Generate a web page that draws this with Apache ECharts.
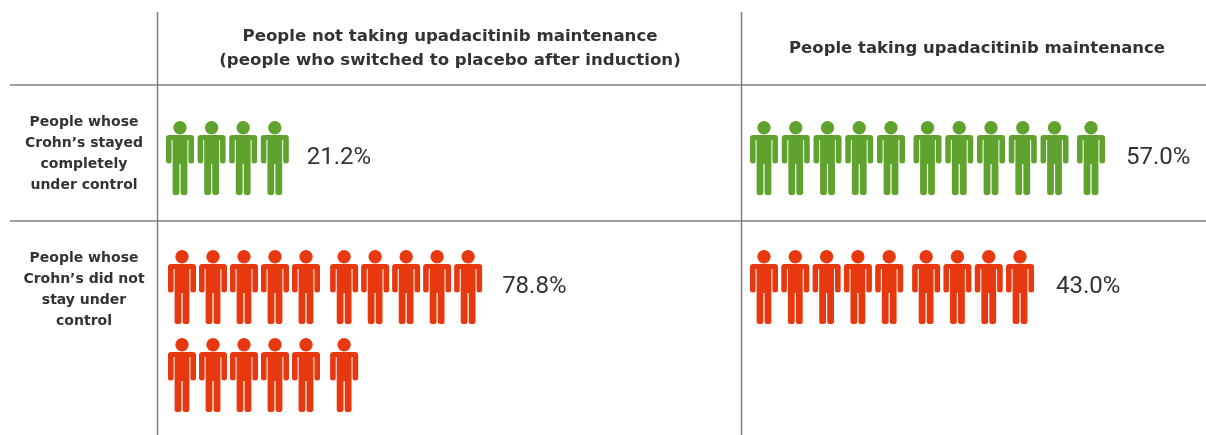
<!DOCTYPE html>
<html>
<head>
<meta charset="utf-8">
<style>
  html, body { margin: 0; background: #fff; }
  #chart { width: 1206px; height: 435px; }
</style>
<script src="https://cdn.jsdelivr.net/npm/echarts@6/dist/echarts.min.js"></script>
</head>
<body>
<div id="chart"></div>
<script>
var columnHeaders = [
  'People not taking upadacitinib maintenance\n(people who switched to placebo after induction)',
  'People taking upadacitinib maintenance'
];
var rowHeaders = [
  'People whose\nCrohn\u2019s stayed\ncompletely\nunder control',
  'People whose\nCrohn\u2019s did not\nstay under\ncontrol'
];
var peopleCounts = [4, 11, 16, 9];
var percentValues = [21.2, 57.0, 78.8, 43.0];

var GREEN = '#5fa32e';
var RED = '#e7380f';
var LINE = '#808080';
var TEXT = '#333333';
var FONT = '"DejaVu Sans"';

var ROW_PITCH = 88;    // px per row of people
var SLOTS = 13;

var person = 'path://M14 0A6.7 6.7 0 1 1 14 13.4A6.7 6.7 0 1 1 14 0Z' +
  'M3 14H25Q28 14 28 17V40Q28 42.5 25.2 42.5Q22.4 42.5 22.4 40V19H21.4V71.4Q21.4 74 18 74Q14.6 74 14.6 71.4V43H13.4V71.4Q13.4 74 10 74Q6.6 74 6.6 71.4V19H5.6V40Q5.6 42.5 2.8 42.5Q0 42.5 0 40V17Q0 14 3 14Z';

// one grid per table cell: first icon centre, px per person, extra slot after five, people per row
var cells = [
  { x: 180, y: 158, pitch: 31.6, gap: 0.2, perRow: 11, color: GREEN, labelGap: 18 },
  { x: 764, y: 158, pitch: 31.75, gap: 0.15, perRow: 11, color: GREEN, labelGap: 21 },
  { x: 182, y: 287, pitch: 31, gap: 0.23, perRow: 10, color: RED, labelGap: 20 },
  { x: 764, y: 287, pitch: 31.3, gap: 0.18, perRow: 11, color: RED, labelGap: 22 }
];

function personPoints(count, value, cell) {
  var pts = [];
  var lastInFirstRow = Math.min(count, cell.perRow) - 1;
  for (var i = 0; i < count; i++) {
    var col = i % cell.perRow;
    var point = { value: [col + Math.floor(col / 5) * cell.gap, Math.floor(i / cell.perRow)] };
    if (i === lastInFirstRow) {
      point.label = {
        show: true,
        position: 'right',
        distance: cell.labelGap,
        formatter: value.toFixed(1) + '%',
        color: TEXT,
        fontFamily: 'Roboto',
        fontSize: 24
      };
    }
    pts.push(point);
  }
  return pts;
}

function headerText(text, x, y, size, lineHeight, weight) {
  return {
    type: 'text',
    x: x,
    y: y,
    style: {
      text: text,
      fill: TEXT,
      font: weight + ' ' + size + 'px ' + FONT,
      align: 'center',
      verticalAlign: 'middle',
      lineHeight: lineHeight
    }
  };
}

function rule(x1, y1, x2, y2) {
  return { type: 'line', shape: { x1: x1, y1: y1, x2: x2, y2: y2 }, style: { stroke: LINE, lineWidth: 1.5 } };
}

var chart = echarts.init(document.getElementById('chart'), null, { renderer: 'canvas' });
chart.setOption({
  animation: false,
  backgroundColor: '#fff',
  grid: cells.map(function (c) {
    return { left: c.x - c.pitch / 2, top: c.y - ROW_PITCH / 2, width: SLOTS * c.pitch, height: 2 * ROW_PITCH };
  }),
  xAxis: cells.map(function (c, i) {
    return { type: 'value', gridIndex: i, min: -0.5, max: SLOTS - 0.5, show: false };
  }),
  yAxis: cells.map(function (c, i) {
    return { type: 'value', gridIndex: i, min: -0.5, max: 1.5, inverse: true, show: false };
  }),
  series: cells.map(function (c, i) {
    return {
      type: 'scatter',
      xAxisIndex: i,
      yAxisIndex: i,
      symbol: person,
      symbolSize: [28, 74],
      itemStyle: { color: c.color, opacity: 1 },
      data: personPoints(peopleCounts[i], percentValues[i], c)
    };
  }),
  graphic: [
    rule(10, 85, 1206, 85),
    rule(10, 221, 1206, 221),
    rule(157.5, 12, 157.5, 435),
    rule(741.5, 12, 741.5, 435),
    headerText(columnHeaders[0], 450, 49, 16.6, 24, 'bold'),
    headerText(columnHeaders[1], 977, 49, 16.5, 24, 'bold'),
    headerText(rowHeaders[0], 84, 154, 14, 21, 'bold'),
    headerText(rowHeaders[1], 84, 290, 14, 21, 'bold')
  ]
});
</script>
</body>
</html>
